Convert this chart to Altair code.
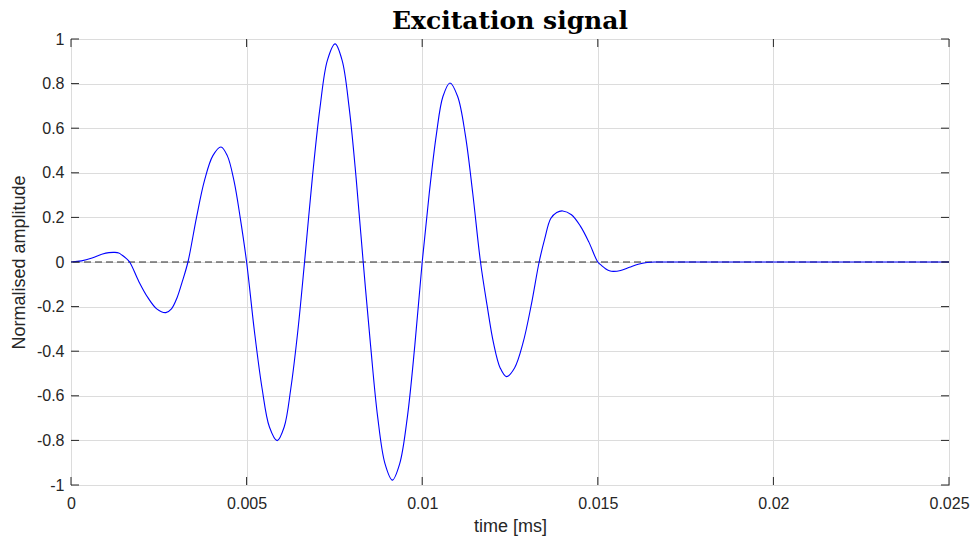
import altair as alt
import pandas as pd

# Windowed tone-burst excitation (time in ms, normalised amplitude)
t_ms = [
    0.0, 0.00030, 0.00060, 0.00090, 0.00108, 0.00125, 0.00136, 0.00146, 0.00157, 0.00167,
    0.00193, 0.00219, 0.00244, 0.00270, 0.00286, 0.00302, 0.00317, 0.00333,
    0.00357, 0.00380, 0.00404, 0.00427, 0.00445, 0.00464, 0.00482, 0.00500,
    0.00522, 0.00544, 0.00565, 0.00587, 0.00607, 0.00626, 0.00646, 0.00665,
    0.00687, 0.00709, 0.00730, 0.00752, 0.00772, 0.00792, 0.00812, 0.00832,
    0.00853, 0.00873, 0.00894, 0.00915, 0.00936, 0.00958, 0.00979, 0.01000,
    0.01020, 0.01040, 0.01059, 0.01079, 0.01101, 0.01123, 0.01144, 0.01166,
    0.01185, 0.01203, 0.01222, 0.01240, 0.01263, 0.01287, 0.01310, 0.01333,
    0.01349, 0.01366, 0.01383, 0.01400, 0.01425, 0.01450, 0.01475, 0.01500,
    0.01511, 0.01522, 0.01533, 0.01544, 0.01565, 0.01590, 0.01615, 0.01640, 0.01667,
    0.01750, 0.02000, 0.02500,
]
amplitude = [
    0.0, 0.005, 0.018, 0.036, 0.042, 0.043, 0.040, 0.030, 0.016, 0.0,
    -0.087, -0.160, -0.210, -0.227, -0.210, -0.160, -0.087, 0.0,
    0.197, 0.365, 0.477, 0.516, 0.477, 0.365, 0.197, 0.0,
    -0.307, -0.566, -0.740, -0.801, -0.740, -0.566, -0.307, 0.0,
    0.374, 0.692, 0.904, 0.978, 0.904, 0.692, 0.374, 0.0,
    -0.374, -0.692, -0.904, -0.978, -0.904, -0.692, -0.374, 0.0,
    0.307, 0.568, 0.742, 0.803, 0.742, 0.568, 0.307, 0.0,
    -0.197, -0.363, -0.475, -0.514, -0.475, -0.363, -0.197, 0.0,
    0.105, 0.195, 0.222, 0.229, 0.212, 0.162, 0.088, 0.0,
    -0.016, -0.030, -0.039, -0.042, -0.038, -0.024, -0.010, -0.002, 0.0,
    0.0, 0.0, 0.0,
]

x_ticks = [0, 0.005, 0.01, 0.015, 0.02, 0.025]
y_ticks = [-1, -0.8, -0.6, -0.4, -0.2, 0, 0.2, 0.4, 0.6, 0.8, 1]

W, H = 878, 446
AXIS_COLOR = "#262626"
FONT = "Liberation Sans"

signal = pd.DataFrame({"t": t_ms, "amp": amplitude})
xt = pd.DataFrame({"t": x_ticks})
yt = pd.DataFrame({"amp": y_ticks})
baseline = pd.DataFrame({"amp": [0]})

x_scale = alt.Scale(domain=[0, 0.025], nice=False, zero=False)
y_scale = alt.Scale(domain=[-1, 1], nice=False, zero=False)

label_fmt = "replace(format(datum.value, '~g'), '\u2212', '-')"

common_axis = dict(
    labelExpr=label_fmt,
    labelFlush=False,
    grid=True,
    gridColor="#dcdcdc",
    gridWidth=1,
    domain=False,
    ticks=False,
    labelFont=FONT,
    labelFontSize=16,
    labelColor=AXIS_COLOR,
    titleFont=FONT,
    titleFontSize=18,
    titleFontWeight="normal",
    titleColor=AXIS_COLOR,
)
x_axis = alt.Axis(values=x_ticks, title="time [ms]", labelPadding=10,
                  titlePadding=6, **common_axis)
y_axis = alt.Axis(values=y_ticks, title="Normalised amplitude", labelPadding=7,
                  titlePadding=8, **common_axis)


def xenc():
    return alt.X("t:Q", scale=x_scale, axis=x_axis)


def yenc():
    return alt.Y("amp:Q", scale=y_scale, axis=y_axis)


zero_line = alt.Chart(baseline).mark_rule(
    color="#2b2b2b", strokeDash=[7, 4], strokeWidth=1
).encode(y=yenc())

curve = alt.Chart(signal).mark_line(
    color="#0000ff", strokeWidth=1.1, interpolate="catmull-rom"
).encode(x=xenc(), y=yenc())

# Inward ticks on all four sides of the box
tick_x_bottom = alt.Chart(xt).mark_rule(color=AXIS_COLOR).encode(
    x=xenc(), y=alt.value(H), y2=alt.value(H - 8)
)
tick_x_top = alt.Chart(xt).mark_rule(color=AXIS_COLOR).encode(
    x=xenc(), y=alt.value(0), y2=alt.value(8)
)
tick_y_left = alt.Chart(yt).mark_rule(color=AXIS_COLOR).encode(
    y=yenc(), x=alt.value(0), x2=alt.value(8)
)
tick_y_right = alt.Chart(yt).mark_rule(color=AXIS_COLOR).encode(
    y=yenc(), x=alt.value(W), x2=alt.value(W - 8)
)

chart = (
    alt.layer(zero_line, curve, tick_x_bottom, tick_x_top, tick_y_left, tick_y_right)
    .properties(
        width=W,
        height=H,
        title=alt.TitleParams(
            "Excitation signal",
            font="DejaVu Serif",
            fontSize=25,
            fontWeight="bold",
            color="#000000",
            anchor="middle",
            offset=4,
            dy=7,
        ),
        autosize=alt.AutoSizeParams(type="none"),
        padding={"left": 71, "top": 39, "right": 27, "bottom": 60},
        background="#ffffff",
    )
    .configure_view(stroke=AXIS_COLOR, strokeWidth=1)
)

chart.save("out.html", embed_options={"renderer": "svg", "actions": False})
